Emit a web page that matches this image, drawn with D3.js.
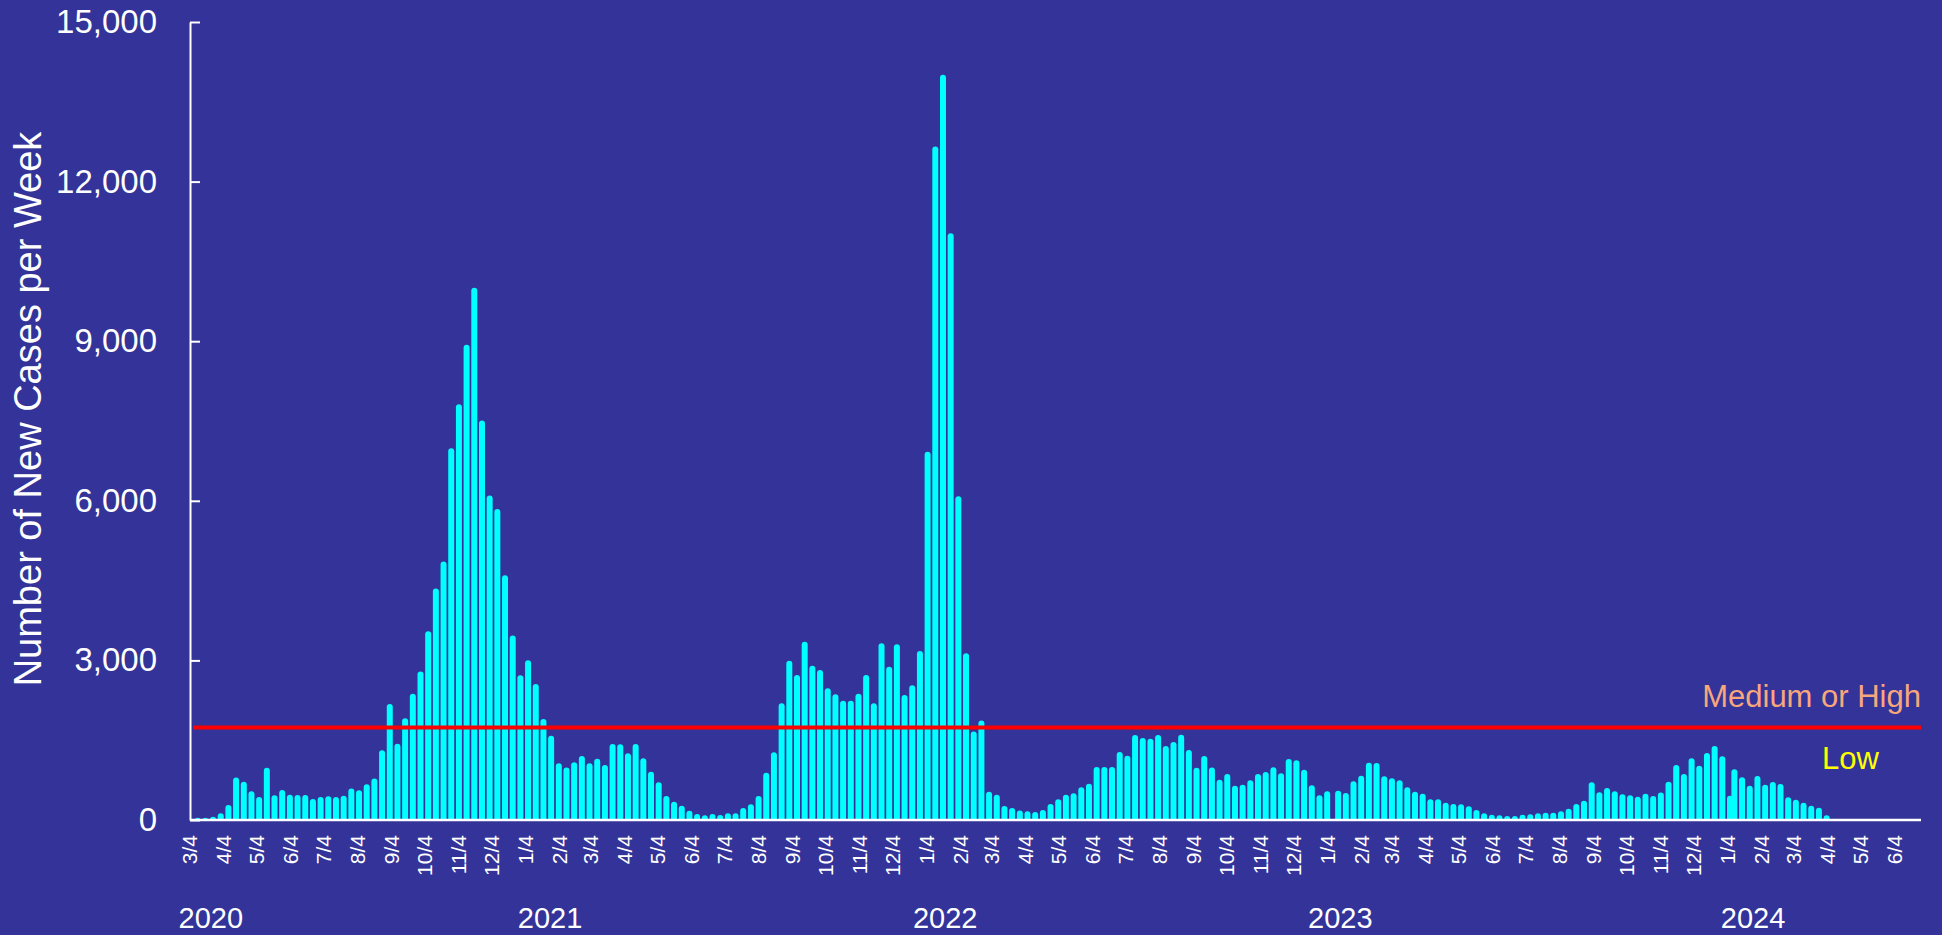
<!DOCTYPE html>
<html>
<head>
<meta charset="utf-8">
<script src="https://d3js.org/d3.v7.min.js"></script>
<style>
  body { margin: 0; background: #333399; }
  text { font-family: Arial, "Liberation Sans", sans-serif; fill: #fff; }
</style>
</head>
<body>
<div id="my_dataviz"></div>
<script>

// weekly new cases, three runs of weeks (week dates as plotted)
var startA = "2020-03-11";
var casesA = [40, 40, 60, 125, 280, 800, 720, 540, 430, 980,
  465, 565, 475, 470, 470, 395, 430, 445, 430, 455,
  590, 560, 670, 780, 1310, 2180, 1434, 1912, 2372, 2790,
  3550, 4350, 4860, 6990, 7815, 8935, 10005, 7510, 6100, 5845,
  4600, 3470, 2720, 3005, 2555, 1900, 1585, 1066, 985, 1085,
  1205, 1065, 1153, 1034, 1429, 1422, 1253, 1429, 1159, 908,
  708, 451, 345, 269, 175, 113, 88, 113, 94, 125,
  125, 225, 294, 451, 890, 1272, 2193, 2995, 2726, 3352,
  2901, 2820, 2475, 2362, 2243, 2243, 2375, 2726, 2193, 3321,
  2882, 3302, 2350, 2532, 3175, 6921, 12658, 14007, 11028, 6087,
  3133, 1665, 1870, 532, 476, 265, 224, 178, 163, 150,
  188, 301, 388, 476, 501, 614, 683, 996, 996, 996,
  1278, 1209, 1598, 1541, 1529, 1598, 1391, 1466, 1604, 1316,
  983, 1203, 988, 755, 865, 645, 664, 746, 865, 902,
  990, 877, 1147, 1121, 946, 652, 464, 539];
var startB = "2023-01-14";
var casesB = [551, 507, 727, 833, 1077, 1071, 821, 783, 746, 614,
  532, 492, 388, 388, 326, 301, 294, 257, 188, 125,
  100, 88, 75, 75, 100, 107, 125, 138, 138, 163,
  213, 301, 363, 708, 520, 602, 539, 482, 464, 439,
  495, 451, 517, 720, 1034, 865, 1159, 1021, 1259, 1391,
  1197, 457];
var startC = "2024-01-10";
var casesC = [953, 802, 645, 827, 664, 714, 677, 426, 382, 326,
  269, 232, 88];

var threshold = 1740;
var yTicks = [0, 3000, 6000, 9000, 12000, 15000];
var yearLabels = ["2020", "2021", "2022", "2023", "2024"];
var yearLabelDates = ["2020-03-23", "2021-01-26", "2022-01-21", "2023-01-16", "2024-01-27"];
var levelLabels = ["Medium or High", "Low"];

var width = 1942, height = 935;
var margin = {top: 22, right: 21, bottom: 115, left: 190};

var parse = d3.utcParse("%Y-%m-%d");

// build one list of {date, value}
var data = [];
[[startA, casesA], [startB, casesB], [startC, casesC]].forEach(function(run) {
  var d0 = parse(run[0]);
  run[1].forEach(function(v, i) {
    data.push({date: d3.utcDay.offset(d0, 7 * i), value: v});
  });
});

var svg = d3.select("#my_dataviz")
  .append("svg")
    .attr("width", width)
    .attr("height", height)
    .style("display", "block");

svg.append("rect")
  .attr("width", width).attr("height", height)
  .attr("fill", "#333399");

var x = d3.scaleUtc()
  .domain([parse("2020-03-04"), parse("2024-06-28")])
  .range([margin.left, width - margin.right]);

var y = d3.scaleLinear()
  .domain([0, 15000])
  .range([height - margin.bottom, margin.top]);

// clip so the rounded bars are flat at the base
svg.append("clipPath").attr("id", "plotclip")
  .append("rect")
    .attr("x", margin.left).attr("y", 0)
    .attr("width", width).attr("height", y(0));

var barW = 6;
svg.append("g")
  .attr("clip-path", "url(#plotclip)")
  .selectAll("rect")
  .data(data)
  .enter()
  .append("rect")
    .attr("x", function(d) { return x(d.date) - barW / 2; })
    .attr("y", function(d) { return y(d.value); })
    .attr("width", barW)
    .attr("height", function(d) { return y(0) - y(d.value) + 4; })
    .attr("rx", 3)
    .attr("fill", "#00ffff");

// threshold line
svg.append("line")
  .attr("x1", margin.left + 3).attr("x2", width - margin.right)
  .attr("y1", y(threshold)).attr("y2", y(threshold))
  .attr("stroke", "#ff0000")
  .attr("stroke-width", 4);

svg.append("text")
  .attr("x", width - margin.right)
  .attr("y", y(threshold) - 20)
  .attr("text-anchor", "end")
  .style("font-size", "31px")
  .style("fill", "#f8a77d")
  .text(levelLabels[0]);

svg.append("text")
  .attr("x", width - margin.right - 99)
  .attr("y", y(threshold) + 42)
  .style("font-size", "31px")
  .style("fill", "#ffff00")
  .text(levelLabels[1]);

// y axis, ticks pointing in
var yAxis = svg.append("g")
  .attr("transform", "translate(" + margin.left + ",0)")
  .call(d3.axisLeft(y)
    .tickValues(yTicks)
    .tickFormat(d3.format(","))
    .tickSizeInner(-10)
    .tickSizeOuter(0)
    .tickPadding(33));
yAxis.selectAll("path, line").attr("stroke", "#fff").attr("stroke-width", 2);
yAxis.selectAll("text")
  .style("font-size", "33px")
  .style("font-family", "Arial, 'Liberation Sans', sans-serif")
  .attr("fill", "#fff");

// x axis line
svg.append("line")
  .attr("x1", margin.left).attr("x2", width - margin.right)
  .attr("y1", y(0)).attr("y2", y(0))
  .attr("stroke", "#fff")
  .attr("stroke-width", 2.5);

// month labels on the 4th
var months = d3.utcMonth.range(parse("2020-03-01"), parse("2024-06-02"))
  .map(function(m) { return d3.utcDay.offset(m, 3); });
var fmt = d3.utcFormat("%-m/%-d");

svg.append("g")
  .selectAll("text")
  .data(months)
  .enter()
  .append("text")
    .attr("transform", function(d) { return "translate(" + x(d) + "," + (y(0) + 15) + ") rotate(-90)"; })
    .attr("text-anchor", "end")
    .attr("dy", "0.35em")
    .style("font-size", "21px")
    .text(function(d) { return fmt(d); });

// years
svg.append("g")
  .selectAll("text")
  .data(yearLabels)
  .enter()
  .append("text")
    .attr("x", function(d, i) { return x(parse(yearLabelDates[i])); })
    .attr("y", 928)
    .attr("text-anchor", "middle")
    .style("font-size", "29px")
    .text(function(d) { return d; });

// y title
svg.append("text")
  .attr("transform", "translate(41,409) rotate(-90)")
  .attr("text-anchor", "middle")
  .style("font-size", "38px")
  .text("Number of New Cases per Week");

</script>
</body>
</html>
